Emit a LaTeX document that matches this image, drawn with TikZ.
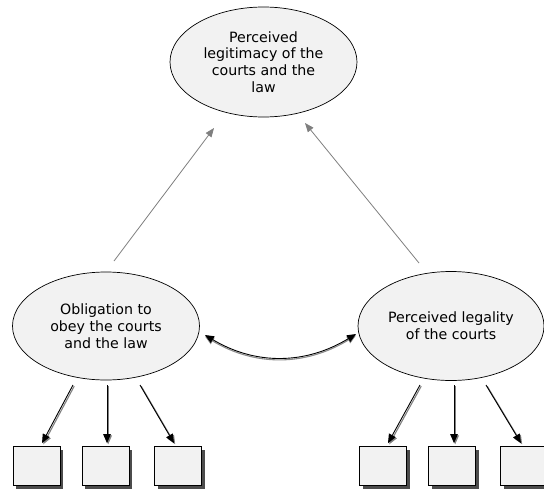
\documentclass[tikz,border=0pt]{standalone}
\usepackage{fontspec}
\setmainfont{DejaVu Sans}
\usetikzlibrary{shapes.geometric,arrows.meta}
\definecolor{nodefill}{HTML}{F2F2F2}
\definecolor{uparrow}{HTML}{7F7F7F}
\begin{document}
\begin{tikzpicture}[x=1pt,y=-1pt,
  construct/.style={ellipse,draw=black,line width=0.7pt,fill=nodefill,inner sep=0pt,
    align=center,font=\fontsize{14.2}{16.8}\selectfont},
  indicator/.style={rectangle,draw=black,line width=0.7pt,fill=nodefill,inner sep=0pt,
    minimum width=47pt,minimum height=39pt,
    preaction={fill=black!70,transform canvas={shift={(3,3)}}}},
  upedge/.style={draw=uparrow,line width=0.8pt,-{Triangle[length=9pt,width=7pt]}},
  loading/.style={draw=black,line width=0.9pt,-{Triangle[length=9pt,width=7.5pt]},
    preaction={draw=black!50,line width=1.1pt,-{Triangle[length=9pt,width=7.5pt]},
      transform canvas={shift={(1.2,1.2)}}}},
  corr/.style={draw=black,line width=0.9pt,{Triangle[length=9pt,width=7.5pt]}-{Triangle[length=9pt,width=7.5pt]},
    preaction={draw=black!45,line width=1.1pt,transform canvas={shift={(0,1.4)}}}}
]
\useasboundingbox (0,0) rectangle (544,490);

% latent constructs
\node[construct,minimum width=187pt,minimum height=110pt] (T) at (263.5,62)
  {Perceived\\legitimacy of the\\courts and the\\law};
\node[construct,minimum width=187pt,minimum height=108pt] (L) at (106,326)
  {Obligation to\\obey the courts\\and the law};
\node[construct,minimum width=186pt,minimum height=109pt] (R) at (451,326)
  {Perceived legality\\of the courts};

% observed indicators
\node[indicator] (L1) at (36.5,466) {};
\node[indicator] (L2) at (105.5,466) {};
\node[indicator] (L3) at (178,466) {};
\node[indicator] (R1) at (383,466) {};
\node[indicator] (R2) at (452,466) {};
\node[indicator] (R3) at (524,466) {};

% structural paths
\draw[upedge] ([shift={(8,-65)}]L.center) -- ([shift={(-49.5,66)}]T.center);
\draw[upedge] ([shift={(-32,-63)}]R.center) -- ([shift={(41.5,61)}]T.center);

% correlation between the two lower constructs
\draw[corr] ([shift={(99,9)}]L.center) .. controls ([shift={(149,39)}]L.center)
  and ([shift={(-146,39)}]R.center) .. ([shift={(-95,8)}]R.center);

% measurement paths
\draw[loading] ([shift={(-33,59)}]L.center) -- ([shift={(5.5,-3)}]L1.north);
\draw[loading] ([shift={(1,59)}]L.center) -- ([shift={(1.5,-3)}]L2.north);
\draw[loading] ([shift={(34,59)}]L.center) -- ([shift={(-4,-3)}]L3.north);
\draw[loading] ([shift={(-31,59)}]R.center) -- ([shift={(5,-3)}]R1.north);
\draw[loading] ([shift={(3,59)}]R.center) -- ([shift={(2,-3)}]R2.north);
\draw[loading] ([shift={(35,59)}]R.center) -- ([shift={(-3,-3)}]R3.north);
\end{tikzpicture}
\end{document}
